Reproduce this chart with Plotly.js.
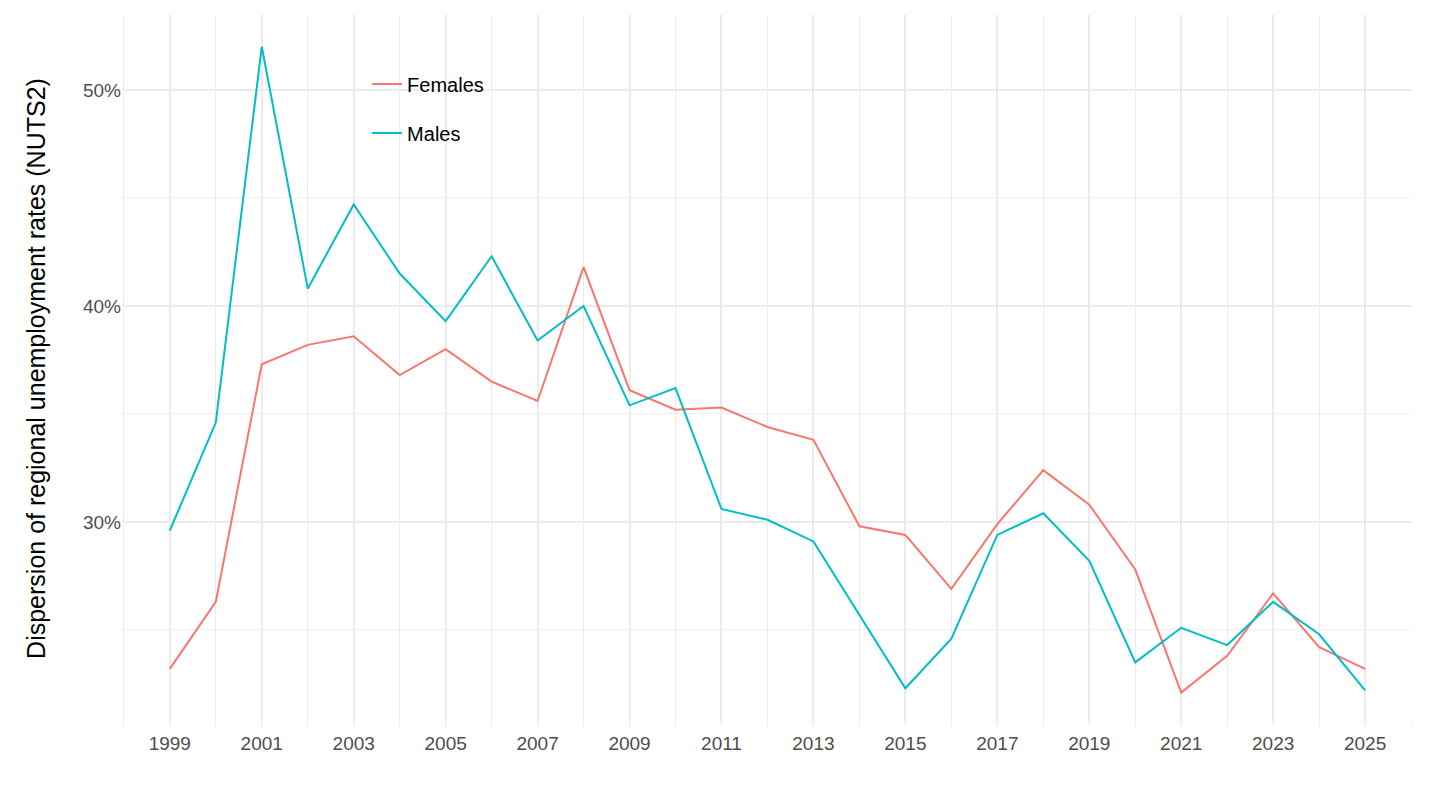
<!DOCTYPE html>
<html>
<head>
<script src="https://cdn.plot.ly/plotly-3.0.1.min.js"></script>
<style>body{margin:0;background:#fff}#chart{width:1440px;height:810px}</style>
</head>
<body>
<div id="chart"></div>
<script>
const years = [];
for (let y = 1999; y <= 2025; y++) years.push(y);
const females = [23.2, 26.3, 37.3, 38.2, 38.6, 36.8, 38.0, 36.5, 35.6, 41.8, 36.1, 35.2, 35.3, 34.4, 33.8, 29.8, 29.4, 26.9, 29.9, 32.4, 30.8, 27.8, 22.1, 23.8, 26.7, 24.2, 23.2];
const males = [29.6, 34.6, 52.0, 40.8, 44.7, 41.5, 39.3, 42.3, 38.4, 40.0, 35.4, 36.2, 30.6, 30.1, 29.1, 25.7, 22.3, 24.6, 29.4, 30.4, 28.2, 23.5, 25.1, 24.3, 26.3, 24.8, 22.2];
const yTicks = [30, 40, 50];
const xTicks = years.filter(y => y % 2 === 1);

const traces = [
  { x: years, y: females, name: "Females", legendgroup: "f", type: "scatter", mode: "lines", line: { color: "#F8766D", width: 2 } },
  { x: years, y: males, name: "Males", legendgroup: "m", type: "scatter", mode: "lines", line: { color: "#00BFC4", width: 2 } }
];

const layout = {
  width: 1440, height: 810,
  margin: { l: 122, r: 28, t: 15, b: 88 },
  paper_bgcolor: "#fff", plot_bgcolor: "#fff",
  font: { family: "Liberation Sans, Arial, sans-serif", color: "#4d4d4d", size: 19 },
  xaxis: {
    range: [1997.96, 2026.02], tickvals: xTicks, ticktext: xTicks.map(String),
    showgrid: true, gridcolor: "#ebebeb", gridwidth: 2, zeroline: false,
    minor: { dtick: 1, tick0: 1998, showgrid: true, gridcolor: "#ebebeb", gridwidth: 1, ticks: "outside", ticklen: 4, tickcolor: "#ebebeb" },
    ticks: "outside", ticklen: 4, tickcolor: "#ebebeb"
  },
  yaxis: {
    range: [20.74, 53.47], tickvals: yTicks, ticktext: yTicks.map(v => v + "%"),
    showgrid: true, gridcolor: "#ebebeb", gridwidth: 2, zeroline: false,
    minor: { tickvals: [25, 35, 45], showgrid: true, gridcolor: "#f0f0f0", gridwidth: 1 },
    title: { text: "Dispersion of regional unemployment rates (NUTS2)", font: { size: 25, color: "#000" }, standoff: 30 }
  },
  legend: { x: 0.19, y: 0.93, xanchor: "left", yanchor: "top", bgcolor: "rgba(0,0,0,0)", font: { size: 20, color: "#000" }, tracegroupgap: 20, traceorder: "grouped" },
  showlegend: true
};

Plotly.newPlot("chart", traces, layout, { displayModeBar: false });
</script>
</body>
</html>
